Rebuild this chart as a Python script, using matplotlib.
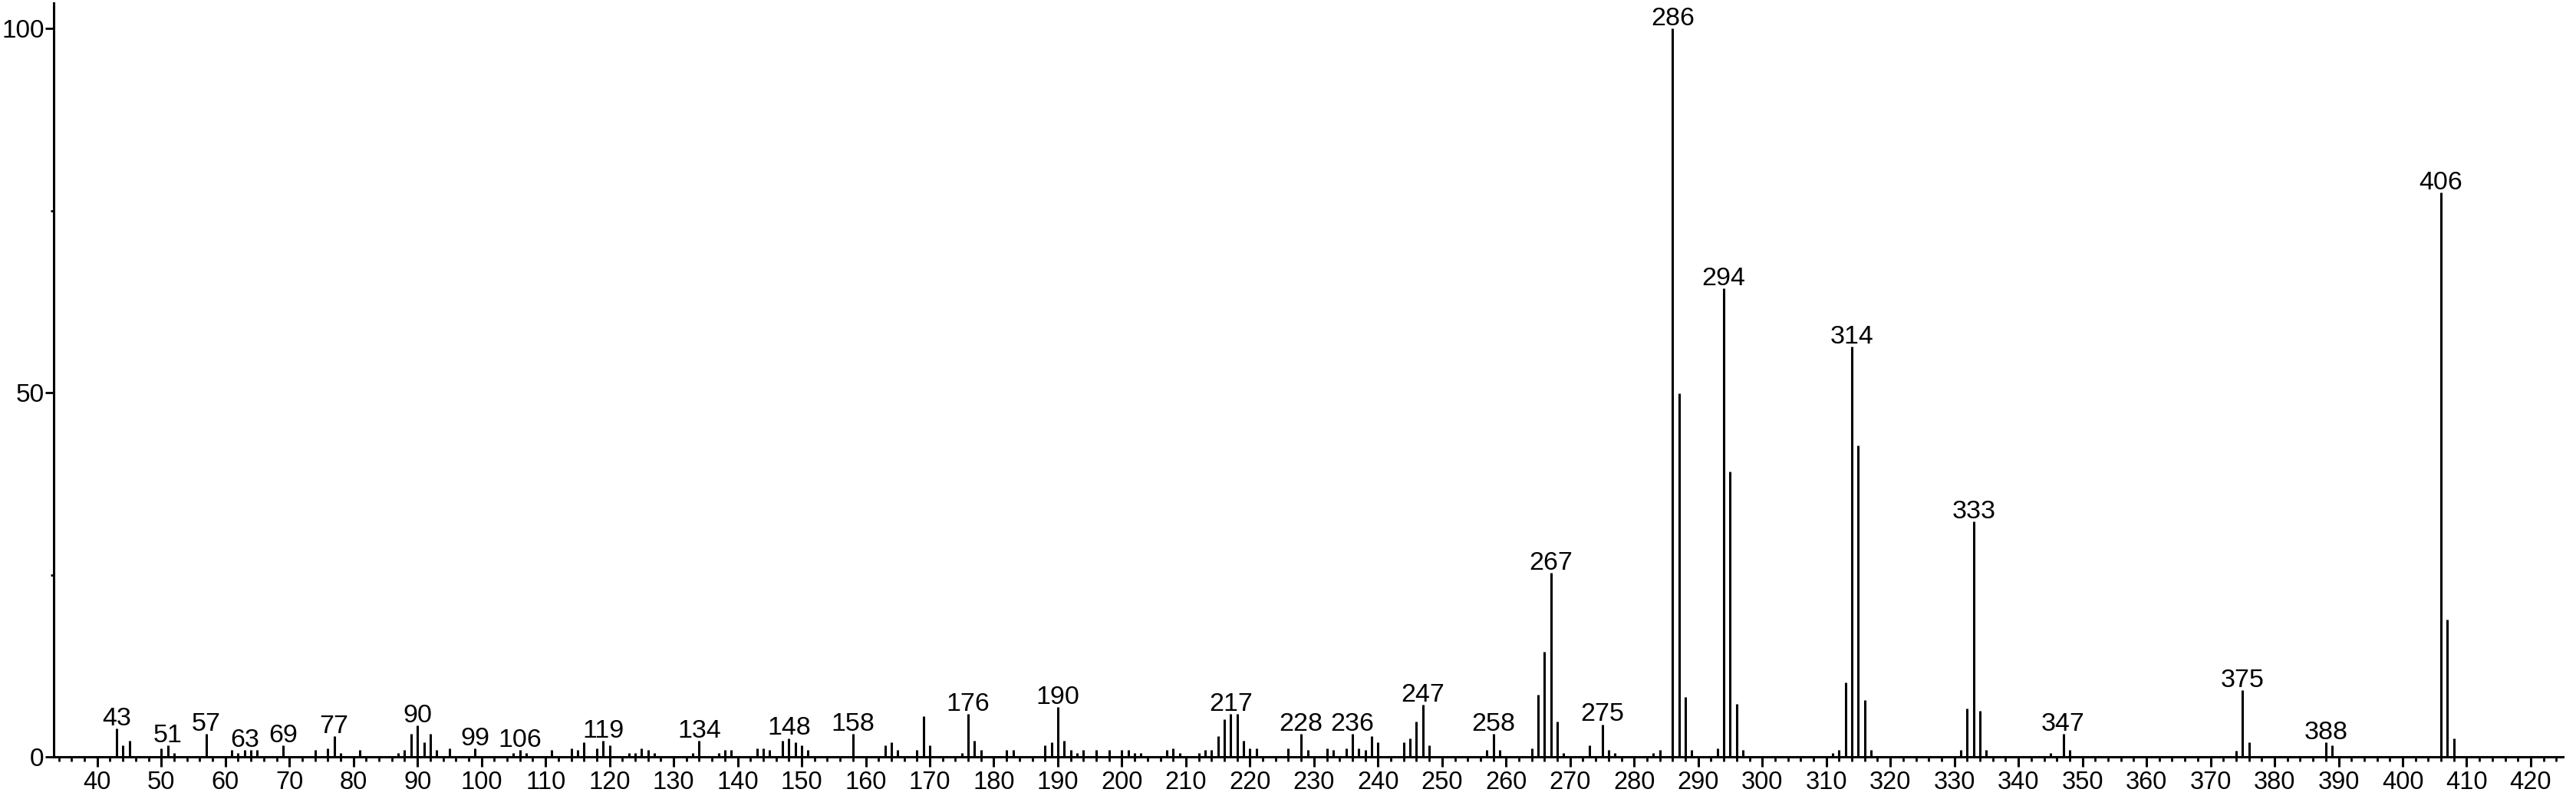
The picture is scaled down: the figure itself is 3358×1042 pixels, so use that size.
import matplotlib
matplotlib.use("Agg")
import matplotlib.pyplot as plt
from matplotlib.ticker import MultipleLocator, FixedLocator

# m/z values and relative intensities
mz = [43, 44, 45, 50, 51, 52, 57, 61, 62, 63, 64, 65, 69, 74, 76, 77, 78, 81,
      87, 88, 89, 90, 91, 92, 93, 95, 99, 105, 106, 107, 111, 114, 115, 116,
      118, 119, 120, 123, 124, 125, 126, 127, 133, 134, 137, 138, 139, 143,
      144, 145, 147, 148, 149, 150, 151, 158, 163, 164, 165, 168, 169, 170,
      175, 176, 177, 178, 182, 183, 188, 189, 190, 191, 192, 193, 194, 196,
      198, 200, 201, 202, 203, 207, 208, 209, 212, 213, 214, 215, 216, 217,
      218, 219, 220, 221, 226, 228, 229, 232, 233, 235, 236, 237, 238, 239,
      240, 244, 245, 246, 247, 248, 257, 258, 259, 264, 265, 266, 267, 268,
      269, 273, 275, 276, 277, 283, 284, 286, 287, 288, 289, 293, 294, 295,
      296, 297, 311, 312, 313, 314, 315, 316, 317, 331, 332, 333, 334, 335,
      345, 347, 348, 374, 375, 376, 388, 389, 406, 407, 408]
intensity = [3.9, 1.6, 2.2, 1.2, 1.6, 0.6, 3.2, 1.0, 0.6, 1.0, 1.0, 1.0, 1.6,
             1.0, 1.2, 2.9, 0.6, 1.0, 0.6, 1.0, 3.2, 4.3, 2.0, 3.2, 1.0, 1.2,
             1.2, 0.6, 1.0, 0.6, 1.0, 1.2, 1.0, 2.0, 1.2, 2.2, 1.6, 0.6, 0.6,
             1.2, 1.0, 0.6, 0.6, 2.2, 0.6, 1.0, 1.0, 1.2, 1.2, 1.0, 2.2, 2.6,
             2.0, 1.6, 1.0, 3.2, 1.6, 2.0, 1.0, 1.0, 5.6, 1.6, 0.6, 5.9, 2.2,
             1.0, 1.0, 1.0, 1.6, 2.0, 6.9, 2.2, 1.0, 0.6, 1.0, 1.0, 1.0, 1.0,
             1.0, 0.6, 0.6, 1.0, 1.2, 0.6, 0.6, 1.0, 1.0, 2.9, 5.2, 5.9, 5.9,
             2.2, 1.2, 1.2, 1.2, 3.2, 1.0, 1.2, 1.0, 1.2, 3.2, 1.2, 1.0, 2.9,
             2.0, 2.0, 2.6, 4.9, 7.2, 1.6, 1.0, 3.2, 1.0, 1.2, 8.6, 14.5, 25.3,
             4.9, 0.6, 1.6, 4.5, 1.0, 0.6, 0.6, 1.0, 100.0, 49.9, 8.2, 1.0, 1.2,
             64.3, 39.2, 7.3, 1.0, 0.6, 1.0, 10.2, 56.3, 42.8, 7.8, 1.0, 1.0,
             6.7, 32.3, 6.3, 1.0, 0.6, 3.2, 1.0, 0.9, 9.2, 2.0, 2.0, 1.6, 77.5,
             18.9, 2.6]
labeled_mz = [43, 51, 57, 63, 69, 77, 90, 99, 106, 119, 134, 148, 158, 176,
              190, 217, 228, 236, 247, 258, 267, 275, 286, 294, 314, 333, 347,
              375, 388, 406]
x_ticks = list(range(40, 421, 10))
y_ticks = [0, 50, 100]

FONT = ["Liberation Sans", "DejaVu Sans"]
plt.rcParams["font.family"] = FONT

fig = plt.figure(figsize=(33.58, 10.42), dpi=100)
ax = fig.add_axes([0.02085, 0.0525, 0.974, 0.9437])

ax.vlines(mz, 0, intensity, color="black", linewidth=2.2)

lookup = dict(zip(mz, intensity))
for m in labeled_mz:
    ax.annotate(str(m), (m, lookup[m]), xytext=(0, 3), textcoords="offset points",
                ha="center", va="baseline", fontsize=24.5, color="black")

ax.set_xlim(33.2, 425)
ax.set_ylim(0, 103.5)

ax.xaxis.set_major_locator(FixedLocator(x_ticks))
ax.xaxis.set_minor_locator(MultipleLocator(2))
ax.yaxis.set_major_locator(FixedLocator(y_ticks))
ax.yaxis.set_minor_locator(FixedLocator([25, 75]))

for s in ["top", "right"]:
    ax.spines[s].set_visible(False)
for s in ["left", "bottom"]:
    ax.spines[s].set_linewidth(2.2)

ax.tick_params(axis="x", which="major", length=9, width=2.2, labelsize=23.5, pad=4)
ax.tick_params(axis="x", which="minor", length=4.3, width=2.0)
ax.tick_params(axis="y", which="major", length=8, width=2.0, labelsize=24, pad=1)
ax.tick_params(axis="y", which="minor", length=3, width=2.0)

fig.savefig("out.png", dpi=100)
